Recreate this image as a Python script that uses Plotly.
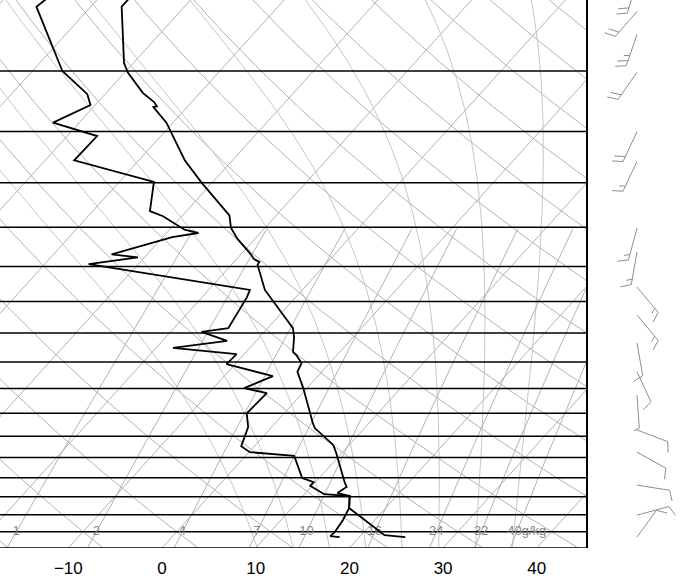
import numpy as np
import plotly.graph_objects as go

# ---------------- data ----------------
temp_p = [200, 206, 244, 251, 267, 274.5, 278, 278.6, 292, 327, 350, 386, 401, 414, 435, 440,
          444, 448, 483, 542, 557, 582, 588, 602, 618, 649, 721, 732, 770, 789, 861, 874, 890,
          898, 931, 1010, 1016]
temp_c = [-56.7, -56.7, -51.0, -49.7, -46.1, -44.0, -43.3, -43.6, -40.7, -35.1, -31.1, -25.0,
          -23.6, -21.9, -18.8, -18.2, -17.3, -17.2, -14.0, -7.3, -6.3, -5.0, -4.3, -3.0, -2.6,
          -0.4, 4.0, 4.7, 8.3, 9.4, 13.1, 13.8, 13.4, 15.0, 16.1, 22.5, 24.9]

dewp_p = [200, 206, 250, 268, 277, 292, 304, 327, 349, 381, 387, 403, 407, 412, 434, 438, 447,
          483, 494, 542, 548, 563, 575, 586, 604, 626, 649, 659, 700, 730, 773, 787, 796, 851,
          861, 871, 893, 898, 931, 965, 1001, 1013, 1016]
dewp_c = [-65.4, -65.8, -56.8, -51.9, -50.5, -52.8, -46.8, -46.9, -36.3, -33.9, -32.0, -28.4,
          -26.6, -29.0, -33.8, -30.7, -35.3, -15.6, -15.2, -14.2, -16.7, -13.1, -18.2, -10.8,
          -10.9, -4.8, -6.7, -3.8, -4.0, -2.5, -1.4, 0.1, 5.2, 8.2, 9.8, 9.8, 12.1, 15.0, 16.1,
          16.6, 16.9, 16.8, 17.9]

wind_p = [191, 209, 224, 251, 300, 328, 401, 431, 479, 521, 567, 618, 663, 736, 787, 869, 951, 1016]
wind_dir = [197, 221, 199, 215, 205, 205, 195, 190, 140, 140, 170, 155, 176, 111, 119, 99, 75, 36]
wind_spd = [20, 20, 25, 20, 20, 15, 15, 15, 15, 15, 10, 10, 5, 10, 10, 10, 10, 10]

temp_ticks = [-10, 0, 10, 20, 30, 40]
mix_ratios = [1, 2, 4, 7, 10, 16, 24, 32, 40]
mix_labels = ["1", "2", "4", "7", "10", "16", "24", "32", "40g/kg"]
isobar_levels = list(range(1050, 150, -50))
isotherm_levels = list(range(-130, 60, 10))
theta_levels = list(range(-30, 180, 10))
theta_w_levels = list(range(8, 40, 4))
MIX_TOP = 400.0

# ---------------- diagram geometry ----------------
W, H = 684, 578
PLOT_W, PLOT_H = 586, 548
P_BOT, P_TOP = 1050.0, 201.9
DEG_PX = 9.37
X_MIN = -162.0 / DEG_PX
X_MAX = X_MIN + PLOT_W / DEG_PX
K = PLOT_H / np.log(P_BOT / P_TOP)       # pixels per ln(p)
SKEW = 0.90692 * K / DEG_PX              # degC shift per ln(p)

GRID = "#b2b2b2"


def skx(t, p):
    return np.asarray(t, float) + SKEW * np.log(P_BOT / np.asarray(p, float))


def joined(xs, ys):
    X, Y = [], []
    for x, y in zip(xs, ys):
        X += list(x) + [None]
        Y += list(y) + [None]
    return X, Y


pgrid = np.exp(np.linspace(np.log(1060), np.log(180), 160))

fig = go.Figure()


def add(x, y, color, width, xa="x", ya="y"):
    fig.add_trace(go.Scatter(x=x, y=y, mode="lines", line=dict(color=color, width=width),
                             hoverinfo="skip", showlegend=False, xaxis=xa, yaxis=ya))


# isotherms
xs, ys = [], []
for t in isotherm_levels:
    xs.append(skx(np.full_like(pgrid, t), pgrid)); ys.append(pgrid)
add(*joined(xs, ys), GRID, 1)

# dry adiabats
xs, ys = [], []
for th in theta_levels:
    tt = (th + 273.15) * (pgrid / 1000.0) ** 0.286 - 273.15
    xs.append(skx(tt, pgrid)); ys.append(pgrid)
add(*joined(xs, ys), GRID, 1)

# moist adiabats
Rd, Cp, Lv, EPS = 287.04, 1005.7, 2.501e6, 0.622


def dTdlnp(tk, p):
    tc = tk - 273.15
    es = 6.112 * np.exp(17.67 * tc / (tc + 243.5))
    rs = EPS * es / (p - es)
    return (Rd * tk + Lv * rs) / (Cp + Lv * Lv * rs * EPS / (Rd * tk * tk))


def moist(t0):
    out = {}
    for direction in (-1, 1):
        lnp = np.log(1000.0)
        tk = t0 + 273.15
        target = np.log(180.0) if direction < 0 else np.log(1060.0)
        h = 0.01 * direction
        pts = [(1000.0, tk)]
        while (lnp > target if direction < 0 else lnp < target):
            k1 = dTdlnp(tk, np.exp(lnp))
            k2 = dTdlnp(tk + 0.5 * h * k1, np.exp(lnp + 0.5 * h))
            k3 = dTdlnp(tk + 0.5 * h * k2, np.exp(lnp + 0.5 * h))
            k4 = dTdlnp(tk + h * k3, np.exp(lnp + h))
            tk += h * (k1 + 2 * k2 + 2 * k3 + k4) / 6
            lnp += h
            pts.append((np.exp(lnp), tk))
        out[direction] = pts
    allp = out[1][::-1] + out[-1][1:]
    pp = np.array([a for a, b in allp]); tt = np.array([b for a, b in allp]) - 273.15
    return pp, tt


xs, ys = [], []
for tw in theta_w_levels:
    pp, tt = moist(tw)
    xs.append(skx(tt, pp)); ys.append(pp)
add(*joined(xs, ys), "#c6c6c6", 1)

# mixing ratio lines
def td_from_w(w, p):
    e = w * p / (622.0 + w)
    a = np.log(e / 6.112)
    return 243.5 * a / (17.67 - a)

pmix = pgrid[pgrid >= MIX_TOP]
xs, ys = [], []
for w in mix_ratios:
    xs.append(skx(td_from_w(w, pmix), pmix)); ys.append(pmix)
add(*joined(xs, ys), GRID, 1)

# isobars
xs, ys = [], []
for p in isobar_levels:
    xs.append([X_MIN - 20, X_MAX + 20]); ys.append([p, p])
add(*joined(xs, ys), "black", 1.5)

# mixing ratio labels
lab_x = [float(skx(td_from_w(w, 1000.0), 1000.0)) for w in mix_ratios]
lab_font = dict(family="Liberation Sans", size=13, color="#858585")
fig.add_trace(go.Scatter(x=lab_x[:-1], y=[1000.0] * (len(lab_x) - 1), mode="text",
                         text=mix_labels[:-1], textposition="middle center", textfont=lab_font,
                         hoverinfo="skip", showlegend=False))
fig.add_trace(go.Scatter(x=[lab_x[-1] - 1.0], y=[1000.0], mode="text",
                         text=[mix_labels[-1]], textposition="middle right", textfont=lab_font,
                         hoverinfo="skip", showlegend=False))

# sounding
add(list(skx(dewp_c, dewp_p)), dewp_p, "black", 1.8)
add(list(skx(temp_c, temp_p)), temp_p, "black", 1.8)

# wind barbs (x2/y2 in pixel units)
BASE_X = 637.0
STAFF, FULL, HALF, STEP, FANG = 33.0, 11.0, 6.0, 5.5, np.radians(68)
bx_all, by_all = [], []
for p, d, s in zip(wind_p, wind_dir, wind_spd):
    by = K * np.log(P_BOT / p)
    ux, uy = np.sin(np.radians(d)), np.cos(np.radians(d))
    tx, ty = BASE_X + STAFF * ux, by + STAFF * uy
    bx_all += [BASE_X, tx, None]; by_all += [by, ty, None]
    ang = np.arctan2(uy, ux) - FANG
    fx, fy = np.cos(ang), np.sin(ang)
    pos = 0.0
    for i in range(int(s // 10)):
        sx, sy = tx - pos * ux, ty - pos * uy
        bx_all += [sx, sx + FULL * fx, None]; by_all += [sy, sy + FULL * fy, None]
        pos += STEP
    if s % 10 >= 5:
        sx, sy = tx - pos * ux, ty - pos * uy
        bx_all += [sx, sx + HALF * fx, None]; by_all += [sy, sy + HALF * fy, None]
add(bx_all, by_all, "#8e8e8e", 1, xa="x2", ya="y2")

fig.update_layout(
    width=W, height=H, margin=dict(l=0, r=0, t=0, b=H - PLOT_H),
    paper_bgcolor="white", plot_bgcolor="white", showlegend=False,
    xaxis=dict(domain=[0, PLOT_W / W], range=[X_MIN, X_MAX], tickvals=temp_ticks,
               showgrid=False, zeroline=False, showline=False, ticks="",
               tickfont=dict(family="Liberation Sans", size=17, color="black"),
               ticklabelstandoff=8, fixedrange=True),
    yaxis=dict(type="log", range=[np.log10(P_BOT), np.log10(P_TOP)], showgrid=False,
               zeroline=False, showticklabels=False, ticks="", showline=True, side="right",
               linecolor="black", linewidth=1.5, fixedrange=True),
    xaxis2=dict(domain=[PLOT_W / W, 1], range=[PLOT_W, W], anchor="y2", visible=False),
    yaxis2=dict(domain=[0, 1], range=[0, PLOT_H], anchor="x2", visible=False),
)

fig.write_html("out.html", config={"displayModeBar": False, "staticPlot": True},
               post_script="document.body.style.margin='0px';document.body.style.overflow='hidden';")
